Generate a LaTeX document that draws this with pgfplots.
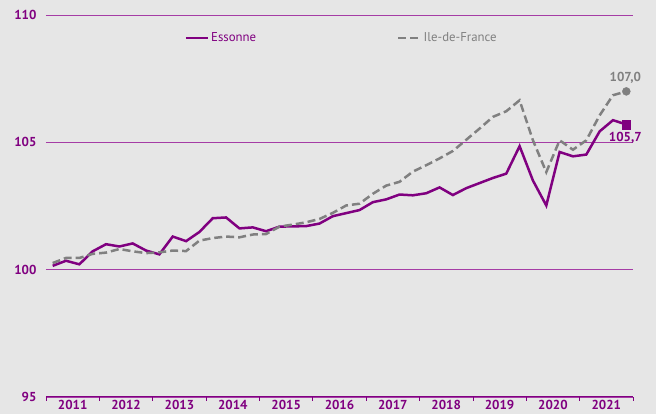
\documentclass[border=0pt]{standalone}
\usepackage{fontspec}
\setmainfont{PT Sans}
\usepackage{pgfplots}
\usepackage{pgfplotstable}
\pgfplotsset{compat=1.18}
\definecolor{ess}{RGB}{128,0,128}
\definecolor{grd}{RGB}{165,60,165}
\definecolor{idf}{RGB}{128,128,128}
\definecolor{bg}{RGB}{230,230,230}

\pgfplotstableread{
i ess idf
0 100.15 100.26
1 100.35 100.46
2 100.21 100.46
3 100.72 100.62
4 101.00 100.67
5 100.91 100.81
6 101.03 100.72
7 100.75 100.65
8 100.60 100.68
9 101.30 100.75
10 101.12 100.73
11 101.48 101.14
12 102.02 101.24
13 102.05 101.30
14 101.62 101.27
15 101.66 101.38
16 101.51 101.40
17 101.69 101.69
18 101.70 101.77
19 101.71 101.86
20 101.81 101.99
21 102.10 102.23
22 102.22 102.52
23 102.34 102.59
24 102.65 102.98
25 102.76 103.30
26 102.95 103.45
27 102.92 103.85
28 103.00 104.10
29 103.23 104.37
30 102.93 104.66
31 103.20 105.10
32 103.40 105.54
33 103.60 106.00
34 103.77 106.22
35 104.85 106.65
36 103.50 105.08
37 102.52 103.83
38 104.62 105.08
39 104.45 104.71
40 104.52 105.08
41 105.43 106.06
42 105.87 106.85
43 105.70 107.00
}\datatable

\begin{document}
\begin{tikzpicture}[x=1pt,y=1pt]
\fill[bg] (-46,-17) rectangle (610,397);
\begin{axis}[
  at={(0,0)}, anchor=south west,
  width=587pt, height=382pt, scale only axis,
  xmin=-0.5, xmax=43.5, ymin=95, ymax=110,
  ytick={95,100,105,110},
  ymajorgrids, grid style={grd, line width=0.8pt},
  axis x line*=bottom, axis y line*=left,
  y axis line style={draw=none},
  x axis line style={ess, line width=1pt},
  xtick={1.5,5.5,9.5,13.5,17.5,21.5,25.5,29.5,33.5,37.5,41.5},
  xticklabels={2011,2012,2013,2014,2015,2016,2017,2018,2019,2020,2021},
  minor xtick={-0.5,3.5,7.5,11.5,15.5,19.5,23.5,27.5,31.5,35.5,39.5,43.5},
  major tick length=0pt, minor tick length=4pt, tick align=outside,
  minor tick style={ess, line width=0.8pt},
  ticklabel style={font=\bfseries\fontsize{13}{15}\selectfont, text=ess},
  yticklabel style={xshift=-6pt},
  xticklabel style={yshift=0pt},
  /pgf/number format/assume math mode=true,
  clip=false,
  legend columns=2,
  legend style={at={(rel axis cs:0.236,0.94)}, anchor=west, draw=none, fill=none,
    font=\fontsize{12.8}{14}\selectfont, inner sep=0pt,
    /tikz/every even column/.append style={column sep=139pt}},
  legend image code/.code={\draw[#1] (0pt,0pt) -- (22pt,0pt);},
]
\addplot[ess, line width=2.5pt, mark=square*, mark indices={44}, mark size=4.2pt,
  mark options={solid, line width=0.4pt}] table[x=i, y=ess] {\datatable};
\addlegendentry{\textcolor{ess}{Essonne}}
\addplot[idf, line width=2.5pt, dash pattern=on 8pt off 4pt, mark=*, mark indices={44}, mark size=4pt,
  mark options={solid, line width=0.4pt}] table[x=i, y=idf] {\datatable};
\addlegendentry{\textcolor{idf}{Ile-de-France}}
\node[anchor=south, text=idf, font=\bfseries\fontsize{13}{15}\selectfont, yshift=4pt, xshift=-1pt] at (axis cs:43,107) {107,0};
\node[anchor=north, text=ess, font=\bfseries\fontsize{13}{15}\selectfont, yshift=-4pt, xshift=-1pt] at (axis cs:43,105.7) {105,7};
\end{axis}
\pgfresetboundingbox
\useasboundingbox (-46,-17) rectangle (610,397);
\end{tikzpicture}
\end{document}
